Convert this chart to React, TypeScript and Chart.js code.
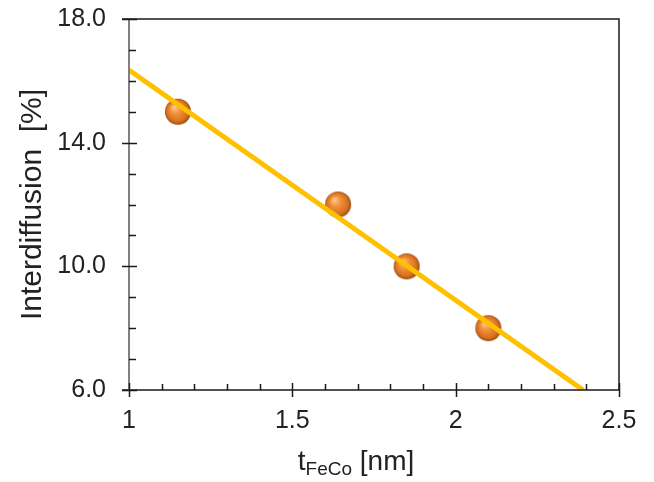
import React, { useEffect, useRef } from "react";
import { Chart, registerables } from "chart.js";

Chart.register(...registerables);

// Data
const thickness = [1.15, 1.64, 1.85, 2.1];
const interdiffusion = [15.0, 12.0, 10.0, 8.0];
const fitX = [1.0, 2.39];
const fitY = [16.35, 6.0];
const xMajorTicks = [1, 1.5, 2, 2.5];
const yMajorTicks = [6, 10, 14, 18];
const xMinorStep = 0.1;
const yMinorStep = 1;

const FONT = '"Liberation Sans", Arial, sans-serif';

function makeSphere(r: number): HTMLCanvasElement {
  const c = document.createElement("canvas");
  const s = r * 2 + 2;
  c.width = s;
  c.height = s;
  const g = c.getContext("2d")!;
  const cx = s / 2;
  const cy = s / 2;
  const grad = g.createRadialGradient(cx - r * 0.3, cy - r * 0.35, r * 0.1, cx, cy, r);
  grad.addColorStop(0, "#FFC080");
  grad.addColorStop(0.35, "#F0903A");
  grad.addColorStop(0.8, "#D8701E");
  grad.addColorStop(1, "#9A4A10");
  g.fillStyle = grad;
  g.beginPath();
  g.arc(cx, cy, r, 0, Math.PI * 2);
  g.fill();
  return c;
}

const axesPlugin = {
  id: "customAxes",
  afterDatasetsDraw(chart: any) {
    const { ctx, chartArea, scales } = chart;
    const { left, right, top, bottom } = chartArea;
    const xs = scales.x;
    const ys = scales.y;
    ctx.save();
    // frame
    ctx.strokeStyle = "#1a1a1a";
    ctx.lineWidth = 1.5;
    ctx.beginPath();
    ctx.moveTo(left - 7, bottom);
    ctx.lineTo(right, bottom);
    ctx.lineTo(right, top);
    ctx.lineTo(left - 7, top);
    ctx.stroke();
    ctx.strokeStyle = "#808080";
    ctx.lineWidth = 2;
    ctx.beginPath();
    ctx.moveTo(left, top);
    ctx.lineTo(left, bottom);
    ctx.stroke();

    ctx.strokeStyle = "#1a1a1a";
    ctx.lineWidth = 1.5;
    // y ticks
    const yMin = ys.min, yMax = ys.max;
    for (let v = yMin; v <= yMax + 1e-9; v += yMinorStep) {
      const p = Math.round(ys.getPixelForValue(v)) + 0.5;
      const major = yMajorTicks.some((t) => Math.abs(t - v) < 1e-6);
      ctx.beginPath();
      if (major) {
        ctx.moveTo(left - 7, p);
        ctx.lineTo(left + 8, p);
      } else {
        ctx.moveTo(left, p);
        ctx.lineTo(left + 7, p);
      }
      ctx.stroke();
    }
    // x ticks
    const xMin = xs.min, xMax = xs.max;
    const n = Math.round((xMax - xMin) / xMinorStep);
    for (let i = 0; i <= n; i++) {
      const v = xMin + i * xMinorStep;
      const p = Math.round(xs.getPixelForValue(v)) + 0.5;
      const major = xMajorTicks.some((t) => Math.abs(t - v) < 1e-6);
      ctx.beginPath();
      if (major) {
        ctx.moveTo(p, bottom - 7);
        ctx.lineTo(p, bottom + 7);
      } else {
        ctx.moveTo(p, bottom - 6);
        ctx.lineTo(p, bottom);
      }
      ctx.stroke();
    }

    // x title with subscript
    const mainFont = `28px ${FONT}`;
    const subFont = `19px ${FONT}`;
    ctx.fillStyle = "#222";
    ctx.textBaseline = "alphabetic";
    ctx.textAlign = "left";
    ctx.font = mainFont;
    const w1 = ctx.measureText("t").width;
    const w3 = ctx.measureText(" [nm]").width;
    ctx.font = subFont;
    const w2 = ctx.measureText("FeCo").width;
    const total = w1 + w2 + w3;
    let x = (left + right) / 2 - 18 - total / 2;
    const base = 470;
    ctx.font = mainFont;
    ctx.fillText("t", x, base);
    x += w1;
    ctx.font = subFont;
    ctx.fillText("FeCo", x, base + 5);
    x += w2;
    ctx.font = mainFont;
    ctx.fillText(" [nm]", x, base);
    ctx.restore();
  },
};

export default function App() {
  const ref = useRef<HTMLCanvasElement | null>(null);
  useEffect(() => {
    if (!ref.current) return;
    const sphere = makeSphere(13);
    const chart = new Chart(ref.current, {
      type: "scatter",
      data: {
        datasets: [
          {
            type: "line",
            label: "fit",
            data: fitX.map((x, i) => ({ x, y: fitY[i] })),
            borderColor: "#FFC000",
            borderWidth: 5,
            pointRadius: 0,
            showLine: true,
            fill: false,
            order: 0,
          } as any,
          {
            type: "scatter",
            label: "data",
            data: thickness.map((x, i) => ({ x, y: interdiffusion[i] })),
            pointStyle: sphere as any,
            pointRadius: 13,
            order: 1,
          },
        ],
      },
      options: {
        responsive: false,
        animation: false,
        devicePixelRatio: 1,
        layout: { padding: { left: 0, top: 19, right: 35, bottom: 0 } },
        plugins: { legend: { display: false }, tooltip: { enabled: false } },
        scales: {
          x: {
            type: "linear",
            min: 1,
            max: 2.5,
            afterFit: (s: any) => {
              s.height = 92;
              s.paddingLeft = 0;
              s.paddingRight = 0;
            },
            afterBuildTicks: (s: any) => {
              s.ticks = xMajorTicks.map((v) => ({ value: v }));
            },
            grid: { display: false, drawTicks: false },
            border: { display: false },
            ticks: {
              padding: 16,
              color: "#222",
              font: { family: FONT, size: 25 },
              maxRotation: 0,
              callback: (v: any) => String(v),
            },
          },
          y: {
            type: "linear",
            min: 6,
            max: 18,
            afterFit: (s: any) => {
              s.width = 129;
              s.paddingTop = 0;
              s.paddingBottom = 0;
            },
            afterBuildTicks: (s: any) => {
              s.ticks = yMajorTicks.map((v) => ({ value: v }));
            },
            grid: { display: false, drawTicks: false },
            border: { display: false },
            ticks: {
              padding: 23,
              color: "#222",
              font: { family: FONT, size: 25 },
              callback: (v: any) => Number(v).toFixed(1),
            },
            title: {
              display: true,
              text: "Interdiffusion  [%]",
              color: "#222",
              font: { family: FONT, size: 30 },
              padding: { top: 15, bottom: 0 },
            },
          },
        },
      },
      plugins: [axesPlugin],
    });
    return () => chart.destroy();
  }, []);
  return (
    <div style={{ position: "absolute", left: 0, top: 0, width: 654, height: 482, background: "#fff" }}>
      <canvas ref={ref} width={654} height={482} />
    </div>
  );
}
